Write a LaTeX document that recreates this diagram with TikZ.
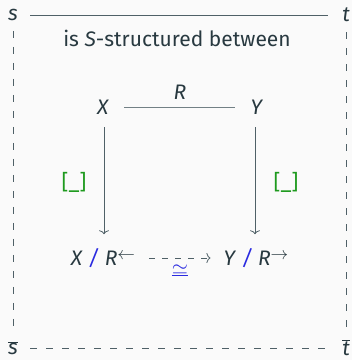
\documentclass[tikz,border=0pt]{standalone}
\usepackage{fontspec}
\setmainfont{Fira Sans}
\usetikzlibrary{arrows.meta}
\definecolor{ink}{HTML}{283940}
\definecolor{rule}{HTML}{4F6067}
\definecolor{bgc}{HTML}{FAFAFA}
\definecolor{grn}{HTML}{1E9A1E}
\definecolor{blu}{HTML}{2A2AE0}
\newcommand{\supar}[1]{\raisebox{0.55ex}{\scalebox{0.85}{$#1$}}}
\tikzset{
  lbl/.style={text=ink, inner sep=0pt},
  solidline/.style={draw=rule, line width=0.8pt},
  dashline/.style={draw=rule, line width=0.8pt, dash pattern=on 7pt off 9pt},
  maparrow/.style={draw=rule, line width=0.8pt, -{To[length=4pt,width=10pt]}},
  dasharrow/.style={draw=rule, line width=0.8pt, dash pattern=on 6pt off 7pt, -{To[length=4pt,width=10pt]}},
  brk/.style={text=grn, inner sep=0pt},
}
\begin{document}
\begin{tikzpicture}[x=1pt,y=-1pt,font=\fontsize{21}{25}\selectfont]
\fill[bgc] (0,0) rectangle (352,360);
\useasboundingbox (0,0) rectangle (352,360);
% corners
\node[lbl] (s) at (13,15) {\textit{s}};
\node[lbl] (t) at (346,15) {\textit{t}};
\node[lbl] (sb) at (13,348) {$\overline{\mbox{\textit{s}}}$};
\node[lbl] (tb) at (346,348) {$\overline{\mbox{\textit{t}}}$};
\draw[solidline, shorten <=12pt, shorten >=14pt] (s) -- (t);
\node[lbl] (caption) at (177,38) {is \textit{S}-structured between};
\draw[dashline, shorten <=10pt, shorten >=10pt] (s) -- (sb);
\draw[dashline, shorten <=10pt, shorten >=10pt] (t) -- (tb);
\draw[dashline, shorten <=12pt, shorten >=15pt] (sb) -- (tb);
% square
\node[lbl] (X) at (103,107) {\textit{X}};
\node[lbl] (Y) at (257,107) {\textit{Y}};
\draw[solidline, draw=rule!80, shorten <=15pt, shorten >=15pt] (X) -- node[lbl, above=7pt] (R) {\textit{R}} (Y);
\node[lbl] (XR) at (103,258) {\textit{X} \textcolor{blu}{\textit{/}} \textit{R}\supar{\leftarrow}};
\node[lbl] (YR) at (256,258) {\textit{Y} \textcolor{blu}{\textit{/}} \textit{R}\supar{\rightarrow}};
\draw[maparrow, shorten <=13pt, shorten >=14pt] (X.south -| 104,0) -- (XR.north -| 104,0);
\draw[maparrow, shorten <=13pt, shorten >=14pt] (Y.south -| 255,0) -- (YR.north -| 255,0);
\node[brk] (bl) at (74,182) {[\_]};
\node[brk] (br) at (286,182) {[\_]};
\path (XR.east) ++(14,0) coordinate (da) (YR.west) ++(-13,0) coordinate (db);
\draw[dasharrow] (da) -- node[text=blu, inner sep=0pt, below=6pt] (eq) {$\underline{\simeq}$} (db);
\end{tikzpicture}
\end{document}
